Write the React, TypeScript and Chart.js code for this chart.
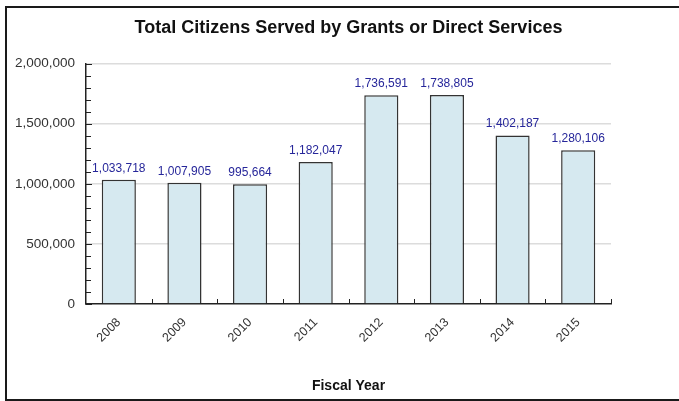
import React, { useEffect, useRef } from "react";
import { Chart, registerables } from "chart.js";

Chart.register(...registerables);

const years = ["2008", "2009", "2010", "2011", "2012", "2013", "2014", "2015"];
const citizens = [1033718, 1007905, 995664, 1182047, 1736591, 1738805, 1402187, 1280106];
const yMin = 0;
const yMax = 2000000;
const yMajorStep = 500000;
const yMinorStep = 100000;

const FONT = 'Arial, "Liberation Sans", Helvetica, sans-serif';
const fmt = (v: number) => v.toLocaleString("en-US");

const labelsPlugin = {
  id: "barValueLabels",
  afterDatasetsDraw(chart: any) {
    const ctx = chart.ctx;
    const meta = chart.getDatasetMeta(0);
    ctx.save();
    ctx.font = `12px ${FONT}`;
    ctx.fillStyle = "#26269a";
    ctx.textAlign = "center";
    ctx.textBaseline = "alphabetic";
    meta.data.forEach((bar: any, i: number) => {
      ctx.fillText(fmt(citizens[i]), bar.x, bar.y - 8);
    });
    ctx.restore();
  },
};

const innerTicksPlugin = {
  id: "innerTicks",
  afterDraw(chart: any) {
    const ctx = chart.ctx;
    const y = chart.scales.y;
    const x = chart.scales.x;
    const area = chart.chartArea;
    ctx.save();
    ctx.strokeStyle = "#222";
    ctx.lineWidth = 1;
    for (let v = yMin; v <= yMax; v += yMinorStep) {
      const py = Math.round(y.getPixelForValue(v)) + 0.5;
      const len = v % yMajorStep === 0 ? 6 : 5;
      ctx.beginPath();
      ctx.moveTo(area.left, py);
      ctx.lineTo(area.left + len, py);
      ctx.stroke();
    }
    const n = years.length;
    for (let i = 1; i <= n; i++) {
      const px = Math.round(x.left + (i * (x.right - x.left)) / n) + 0.5;
      ctx.beginPath();
      ctx.moveTo(px, area.bottom);
      ctx.lineTo(px, area.bottom - 5);
      ctx.stroke();
    }
    ctx.restore();
  },
};

export default function App() {
  const ref = useRef<HTMLCanvasElement | null>(null);

  useEffect(() => {
    document.body.style.overflow = "hidden";
    const canvas = ref.current;
    if (!canvas) return;
    const chart = new Chart(canvas, {
      type: "bar",
      data: {
        labels: years,
        datasets: [
          {
            data: citizens,
            backgroundColor: "#d6e9f0",
            borderColor: "#333",
            borderWidth: 1.5,
            categoryPercentage: 1,
            barPercentage: 0.52,
          },
        ],
      },
      options: {
        responsive: false,
        animation: false,
        layout: { padding: { left: 0, right: 68, top: 0, bottom: 0 } },
        plugins: {
          legend: { display: false },
          tooltip: { enabled: false },
          title: {
            display: true,
            fullSize: false,
            text: "Total Citizens Served by Grants or Direct Services",
            color: "#111",
            font: { family: FONT, size: 18, weight: "bold" },
            padding: { top: 17, bottom: 25 },
          },
        },
        scales: {
          x: {
            grid: { display: false, drawTicks: false },
            border: { display: true, color: "#222", width: 1.5 },
            ticks: {
              color: "#333",
              font: { family: FONT, size: 12.5 },
              minRotation: 45,
              maxRotation: 45,
              padding: 11,
              autoSkip: false,
            },
            title: {
              display: true,
              text: "Fiscal Year",
              color: "#111",
              font: { family: FONT, size: 14, weight: "bold" },
              padding: { top: 4, bottom: 6.5 },
            },
            afterFit: (s: any) => {
              s.height = 97;
            },
          },
          y: {
            min: yMin,
            max: yMax,
            grid: {
              drawTicks: false,
              color: (c: any) =>
                c.tick && c.tick.value % yMajorStep === 0 && c.tick.value !== 0 ? "#dcdcdc" : "rgba(0,0,0,0)",
              lineWidth: 1.5,
            },
            border: { display: true, color: "#222", width: 1.5 },
            ticks: {
              stepSize: yMinorStep,
              autoSkip: false,
              padding: 11,
              color: "#333",
              font: { family: FONT, size: 13.5 },
              callback: (v: any) => (Number(v) % yMajorStep === 0 ? fmt(Number(v)) : ""),
            },
            afterFit: (s: any) => {
              s.width = 86;
            },
          },
        },
      },
      plugins: [labelsPlugin, innerTicksPlugin],
    });
    return () => chart.destroy();
  }, []);

  return (
    <div>
      <div
        style={{
          position: "absolute",
          left: 5,
          top: 6,
          width: 674,
          height: 395,
          border: "2px solid #1a1a1a",
          borderRight: "none",
          boxSizing: "border-box",
        }}
      />
      <canvas
        ref={ref}
        width={679}
        height={401}
        style={{ position: "absolute", left: 0, top: 0, width: 679, height: 401 }}
      />
    </div>
  );
}
